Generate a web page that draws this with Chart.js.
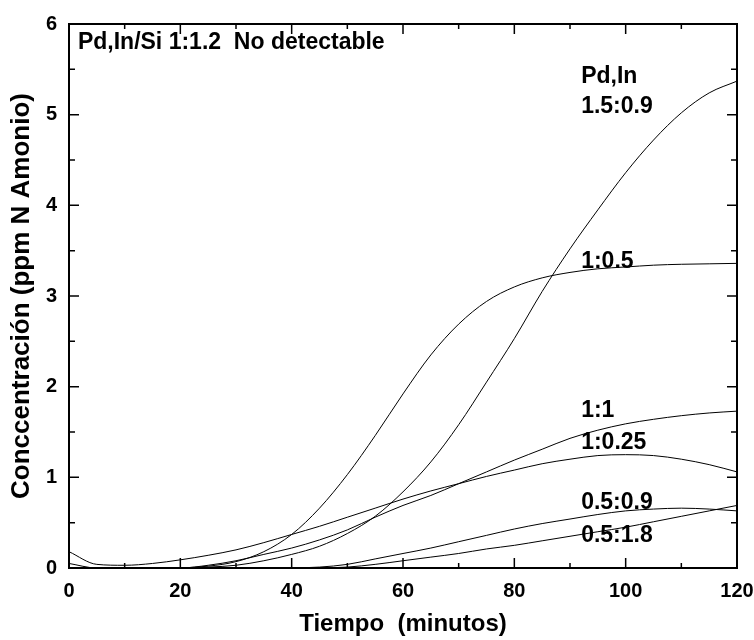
<!DOCTYPE html>
<html>
<head>
<meta charset="utf-8">
<script src="https://cdn.jsdelivr.net/npm/chart.js@4"></script>
<style>
  html, body { margin: 0; padding: 0; background: #fff; }
  #wrap { width: 754px; height: 640px; }
</style>
</head>
<body>
<div id="wrap"><canvas id="chart"></canvas></div>
<script>
// Tiempo (minutos), every 5 min
const tiempo = [0, 5, 10, 15, 20, 25, 30, 35, 40, 45, 50, 55, 60, 65, 70, 75, 80, 85, 90, 95, 100, 105, 110, 115, 120];

// ppm N amonio for each Pd,In ratio (null = curve not drawn yet)
const r15_09 = [null, null, null, null, 0, 0.01, 0.03, 0.08, 0.15, 0.24, 0.38, 0.57, 0.84, 1.17, 1.58, 2.05, 2.53, 3.05, 3.52, 3.95, 4.36, 4.72, 5.02, 5.24, 5.37];
const r1_05  = [null, null, null, null, 0, 0.02, 0.07, 0.18, 0.37, 0.66, 1.03, 1.46, 1.92, 2.35, 2.69, 2.94, 3.1, 3.2, 3.26, 3.3, 3.32, 3.34, 3.35, 3.355, 3.36];
const r1_1   = [0.05, 0, 0, 0, 0, 0.03, 0.08, 0.15, 0.22, 0.31, 0.42, 0.56, 0.69, 0.8, 0.93, 1.06, 1.19, 1.31, 1.43, 1.52, 1.59, 1.64, 1.68, 1.71, 1.73];
const r1_025 = [0.18, 0.04, 0.03, 0.05, 0.09, 0.14, 0.2, 0.28, 0.37, 0.46, 0.56, 0.66, 0.76, 0.85, 0.93, 1.01, 1.08, 1.15, 1.2, 1.24, 1.25, 1.24, 1.2, 1.14, 1.06];
const r05_09 = [null, null, null, null, null, null, null, null, 0, 0.01, 0.04, 0.1, 0.16, 0.22, 0.29, 0.36, 0.43, 0.49, 0.54, 0.59, 0.63, 0.65, 0.66, 0.65, 0.63];
const r05_18 = [null, null, null, null, null, null, null, null, null, 0, 0.01, 0.04, 0.08, 0.12, 0.16, 0.21, 0.25, 0.3, 0.35, 0.4, 0.45, 0.51, 0.57, 0.63, 0.69];

const xTicks = [0, 20, 40, 60, 80, 100, 120];
const yTicks = [0, 1, 2, 3, 4, 5, 6];

// text written inside the plot, in data units
const notes = [
    { text: 'Pd,In/Si 1:1.2  No detectable', x: 1.6, y: 5.79 },
    { text: 'Pd,In', x: 92, y: 5.42 },
    { text: '1.5:0.9', x: 92, y: 5.09 },
    { text: '1:0.5', x: 92, y: 3.38 },
    { text: '1:1', x: 92, y: 1.73 },
    { text: '1:0.25', x: 92, y: 1.38 },
    { text: '0.5:0.9', x: 92, y: 0.72 },
    { text: '0.5:1.8', x: 92, y: 0.36 }
];

const FONT = '"Liberation Sans", Arial, sans-serif';

function toPoints(values) {
    return tiempo.map((t, i) => ({ x: t, y: values[i] }));
}

function lineSet(label, values) {
    return {
        label: label,
        data: toPoints(values),
        borderColor: '#000',
        borderWidth: 1,
        pointRadius: 0,
        fill: false,
        spanGaps: false,
        cubicInterpolationMode: 'monotone'
    };
}

// box on all four sides with inward ticks, plus the curve labels
const framePlugin = {
    id: 'frame',
    afterDatasetsDraw(chart) {
        const { ctx, chartArea: a, scales } = chart;
        const xs = scales.x, ys = scales.y;
        ctx.save();
        ctx.strokeStyle = '#000';
        ctx.lineWidth = 1.5;
        ctx.beginPath();
        for (let v = 0; v <= 120; v += 10) {
            const px = xs.getPixelForValue(v);
            const len = v % 20 === 0 ? 10 : 5;
            ctx.moveTo(px, a.bottom); ctx.lineTo(px, a.bottom - len);
            ctx.moveTo(px, a.top); ctx.lineTo(px, a.top + len);
        }
        for (let v = 0; v <= 6; v += 0.5) {
            const py = ys.getPixelForValue(v);
            const len = Number.isInteger(v) ? 10 : 6;
            ctx.moveTo(a.left, py); ctx.lineTo(a.left + len, py);
            ctx.moveTo(a.right, py); ctx.lineTo(a.right - len, py);
        }
        ctx.stroke();
        ctx.lineWidth = 2;
        ctx.strokeRect(a.left, a.top, a.right - a.left, a.bottom - a.top);

        ctx.fillStyle = '#000';
        ctx.font = 'bold 23px ' + FONT;
        ctx.textAlign = 'left';
        ctx.textBaseline = 'middle';
        notes.forEach(n => {
            ctx.fillText(n.text, xs.getPixelForValue(n.x), ys.getPixelForValue(n.y));
        });
        ctx.restore();
    }
};

new Chart(document.getElementById('chart'), {
    type: 'line',
    data: {
        datasets: [
            lineSet('1.5:0.9', r15_09),
            lineSet('1:0.5', r1_05),
            lineSet('1:1', r1_1),
            lineSet('1:0.25', r1_025),
            lineSet('0.5:0.9', r05_09),
            lineSet('0.5:1.8', r05_18)
        ]
    },
    options: {
        responsive: true,
        maintainAspectRatio: false,
        animation: false,
        clip: true,
        layout: { padding: { left: 0, right: 17, top: 24, bottom: 0 } },
        plugins: {
            legend: { display: false },
            tooltip: { enabled: false }
        },
        scales: {
            x: {
                type: 'linear',
                min: 0,
                max: 120,
                afterBuildTicks: s => { s.ticks = xTicks.map(v => ({ value: v })); },
                afterFit: s => { s.height = 72; s.paddingLeft = 0; s.paddingRight = 0; },
                grid: { display: false, drawTicks: false },
                border: { display: false },
                ticks: {
                    padding: 11,
                    color: '#000',
                    maxRotation: 0,
                    font: { family: FONT, size: 20, weight: 'bold' }
                },
                title: {
                    display: true,
                    text: 'Tiempo  (minutos)',
                    color: '#000',
                    padding: { top: 0, bottom: 1 },
                    font: { family: FONT, size: 24, weight: 'bold' }
                }
            },
            y: {
                type: 'linear',
                min: 0,
                max: 6,
                afterBuildTicks: s => { s.ticks = yTicks.map(v => ({ value: v })); },
                afterFit: s => { s.width = 69; s.paddingTop = 0; s.paddingBottom = 0; },
                grid: { display: false, drawTicks: false },
                border: { display: false },
                ticks: {
                    padding: 12,
                    color: '#000',
                    font: { family: FONT, size: 20, weight: 'bold' }
                },
                title: {
                    display: true,
                    text: 'Conccentración (ppm N Amonio)',
                    color: '#000',
                    padding: { top: 6, bottom: 0 },
                    font: { family: FONT, size: 26, weight: 'bold' }
                }
            }
        }
    },
    plugins: [framePlugin]
});
</script>
</body>
</html>
